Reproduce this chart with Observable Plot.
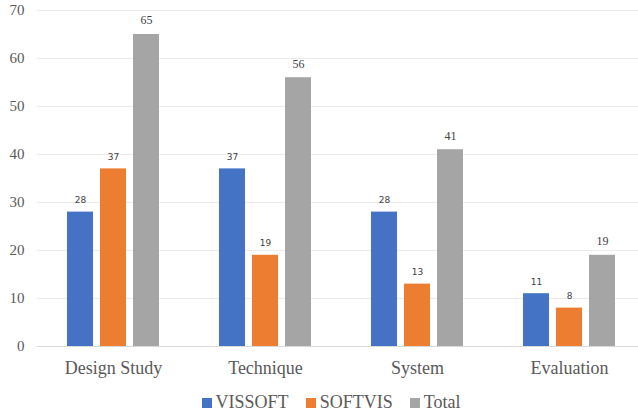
<!DOCTYPE html>
<html>
<head>
<meta charset="utf-8">
<script src="https://cdn.jsdelivr.net/npm/d3@7"></script>
<script src="https://cdn.jsdelivr.net/npm/@observablehq/plot@0.6"></script>
<style>
  body { margin: 0; background: #fff; }
  #legend { display: flex; justify-content: center; align-items: center; gap: 17px; width: 638px; padding-left: 24px; margin-top: 6px; box-sizing: border-box; font-family: 'Liberation Serif', 'Times New Roman', Times, 'DejaVu Serif', serif; font-size: 18px; color: #595959; height: 33px; }
  #legend span.item { display: flex; align-items: center; }
  #legend span.sw { width: 10px; height: 10px; display: inline-block; margin-right: 4px; }
</style>
</head>
<body>
<div id="chart"></div>
<div id="legend"></div>
<script>
const categories = ["Design Study", "Technique", "System", "Evaluation"];
const series = ["VISSOFT", "SOFTVIS", "Total"];
const vissoft = [28, 37, 28, 11];
const softvis = [37, 19, 13, 8];
const total = [65, 56, 41, 19];
const colors = ["#4472C4", "#ED7D31", "#A5A5A5"];
const yTicks = [0, 10, 20, 30, 40, 50, 60, 70];

const serifFont = "'Liberation Serif', 'Times New Roman', Times, 'DejaVu Serif', serif";
const sansFont = "'DejaVu Sans', 'Liberation Sans', sans-serif";
const valuesBySeries = [vissoft, softvis, total];
const data = categories.flatMap((c, i) =>
  series.map((s, j) => ({category: c, series: s, value: valuesBySeries[j][i]}))
);

const chart = Plot.plot({
  width: 638,
  height: 380,
  marginLeft: 36,
  marginRight: -8,
  marginTop: 10,
  marginBottom: 34,
  style: {fontFamily: serifFont, background: "white", overflow: "hidden"},
  fx: {domain: categories, paddingInner: 0, paddingOuter: 0, label: null},
  x: {domain: series, paddingInner: 0.22, paddingOuter: 0.9, axis: null},
  y: {domain: [0, 70], label: null},
  color: {domain: series, range: colors},
  marks: [
    Plot.ruleY(yTicks.slice(1), {stroke: "#ebebeb", strokeWidth: 1}),
    Plot.ruleY([0], {stroke: "#d9d9d9", strokeWidth: 1}),
    Plot.barY(data, {fx: "category", x: "series", y: "value", fill: "series"}),
    Plot.text(data.filter(d => d.series !== "Total"), {fx: "category", x: "series", y: "value", text: d => String(d.value), dy: -12, fontSize: 9, fontFamily: sansFont, fill: "#404040"}),
    Plot.text(data.filter(d => d.series === "Total"), {fx: "category", x: "series", y: "value", text: d => String(d.value), dy: -14, fontSize: 12, fontFamily: serifFont, fill: "#404040"}),
    Plot.axisY({ticks: yTicks, tickSize: 0, tickPadding: 13, fontSize: 15, fill: "#595959", fontFamily: serifFont, label: null}),
    Plot.axisFx({anchor: "bottom", tickSize: 0, tickPadding: 15, fontSize: 18, fill: "#595959", fontFamily: serifFont, label: null})
  ]
});
document.getElementById("chart").appendChild(chart);

const legend = document.getElementById("legend");
series.forEach((s, i) => {
  const item = document.createElement("span");
  item.className = "item";
  const sw = document.createElement("span");
  sw.className = "sw";
  sw.style.background = colors[i];
  item.appendChild(sw);
  item.appendChild(document.createTextNode(s));
  legend.appendChild(item);
});
</script>
</body>
</html>
